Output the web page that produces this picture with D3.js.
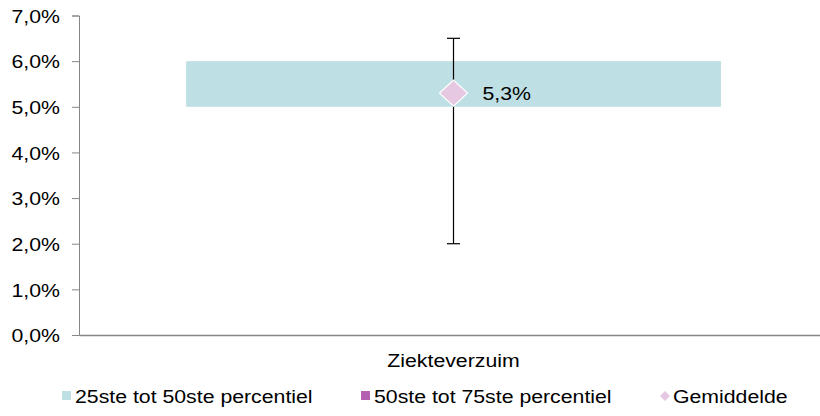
<!DOCTYPE html>
<html><head><meta charset="utf-8">
<script src="https://cdn.jsdelivr.net/npm/d3@7"></script>
<style>body{margin:0;background:#fff}svg{display:block}text{font-family:"Liberation Sans",Arial,sans-serif}</style>
</head><body><svg id="c" width="820" height="416"></svg>
<script>
const categories = ["Ziekteverzuim"];
const p25 = [5.0];
const p50 = [6.0];
const p75 = [6.0];
const whiskerLow = [2.0];
const whiskerHigh = [6.5];
const mean = [5.3];
const yTicks = [0,1,2,3,4,5,6,7];
const legendLabels = ["25ste tot 50ste percentiel","50ste tot 75ste percentiel","Gemiddelde"];
const colors = ["#BEDFE3","#B360B0","#E6C8E2"];

const FS = 19, SX = 1.12;
const svg = d3.select("#c");
const mLeft = 79, mRight = 828, mTop = 15.5, mBottom = 335;
const x = d3.scaleBand().domain(categories).range([mLeft, mRight]).padding(0);
const y = d3.scaleLinear().domain([0,7]).range([mBottom, mTop]);
const fmt = v => d3.format(".1f")(v).replace(".", ",") + "%";

function stretchText(sel, px, py) {
  sel.attr("x", px / SX).attr("y", py).attr("transform", `scale(${SX},1)`)
     .style("font-size", FS + "px").attr("fill", "#000");
  return sel;
}

const yAxis = d3.axisLeft(y).tickValues(yTicks).tickSize(7).tickPadding(12).tickFormat(fmt);
const gy = svg.append("g").attr("transform",`translate(${mLeft},0)`).call(yAxis);
gy.select(".domain").attr("stroke","#868686");
gy.selectAll(".tick line").attr("stroke","#868686");
gy.selectAll(".tick text").each(function(){
  stretchText(d3.select(this), -19, 0).attr("dy","0.35em");
});

const xAxis = d3.axisBottom(x).tickSize(0).tickPadding(0).tickSizeOuter(0);
const gx = svg.append("g").attr("transform",`translate(0,${mBottom})`).call(xAxis);
gx.select(".domain").attr("stroke","#868686").attr("stroke-width",1.5);
gx.selectAll(".tick text").each(function(){
  stretchText(d3.select(this), 0, 32).attr("dy", null);
});

const bw = x.bandwidth()*0.714;
const cx = i => x(categories[i]) + x.bandwidth()/2;

categories.forEach((c,i) => {
  svg.append("rect").attr("x", cx(i)-bw/2).attr("width", bw)
    .attr("y", y(p50[i])).attr("height", y(p25[i]) - y(p50[i])).attr("fill", colors[0]);
  svg.append("rect").attr("x", cx(i)-bw/2).attr("width", bw)
    .attr("y", y(p75[i])).attr("height", y(p50[i]) - y(p75[i])).attr("fill", colors[1]);
  const wg = svg.append("g").attr("stroke","#000").attr("stroke-width",1.2);
  wg.append("line").attr("x1",cx(i)).attr("x2",cx(i)).attr("y1",y(whiskerHigh[i])).attr("y2",y(whiskerLow[i]));
  [whiskerHigh[i], whiskerLow[i]].forEach(v => {
    wg.append("line").attr("x1",cx(i)-6.5).attr("x2",cx(i)+6.5).attr("y1",y(v)).attr("y2",y(v));
  });
  const sx = 14, sy = 13;
  const my = y(mean[i]);
  svg.append("path").attr("d",`M${cx(i)},${my-sy}L${cx(i)+sx},${my}L${cx(i)},${my+sy}L${cx(i)-sx},${my}Z`)
    .attr("fill",colors[2]).attr("stroke","#fff").attr("stroke-width",1.2);
  stretchText(svg.append("text").text(fmt(mean[i])), cx(i)+29, my+7);
});

const lg = svg.append("g");
const lx = [62, 361, 660];
const ly = 403;
legendLabels.forEach((t,i) => {
  if (i < 2) {
    lg.append("rect").attr("x",lx[i]).attr("y",ly-12).attr("width",9).attr("height",9).attr("fill",colors[i]);
  } else {
    const dx = lx[i]+5, dy = ly-7;
    lg.append("path").attr("d",`M${dx},${dy-5}L${dx+5},${dy}L${dx},${dy+5}L${dx-5},${dy}Z`).attr("fill",colors[i]);
  }
  stretchText(lg.append("text").text(t), lx[i]+13, ly);
});
</script></body></html>
